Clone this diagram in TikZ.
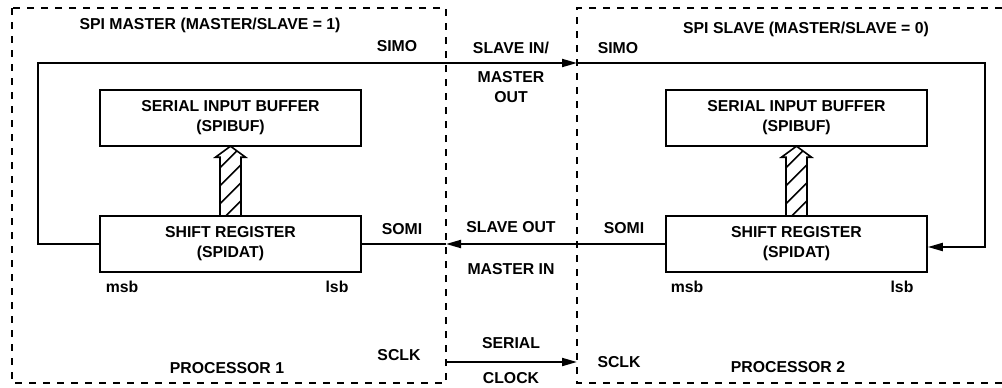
\documentclass[tikz,border=0pt]{standalone}
\usepackage{fontspec}
\setmainfont{Liberation Sans}
\usetikzlibrary{arrows.meta}

\begin{document}
\begin{tikzpicture}[x=1pt, y=-1pt,
    font=\fontsize{15.8}{20}\selectfont\bfseries,
    reg/.style={draw, line width=1.6pt, minimum width=261pt, minimum height=56pt, align=center, inner sep=0pt},
    lbl/.style={inner sep=0pt, anchor=base, align=center},
    wire/.style={line width=2pt},
    arr/.style={wire, -{Triangle[length=15pt,width=8pt]}},
    proc/.style={line width=1.6pt, dash pattern=on 7pt off 7pt}]

    \useasboundingbox (0,0) rectangle (1002,388);

    % processors
    \coordinate (mTL) at (12,8);
    \coordinate (mBR) at (446,383);
    \coordinate (sTL) at (577,8);
    \coordinate (sBR) at (1002,383);
    \draw[proc] (mTL) rectangle (mBR);
    \draw[proc] (sBR |- sTL) -- (sTL) |- (sBR);

    % registers
    \node[reg] (bufL) at (230.5,118) {SERIAL INPUT BUFFER\\(SPIBUF)};
    \node[reg] (srL) at (230.5,244) {SHIFT REGISTER\\(SPIDAT)};
    \node[reg] (bufR) at (796.5,118) {SERIAL INPUT BUFFER\\(SPIBUF)};
    \node[reg] (srR) at (796.5,244) {SHIFT REGISTER\\(SPIDAT)};

    % hatched transfer arrows
    \foreach \r in {srL,srR} {
        \begin{scope}[shift={(\r.north)}]
            \begin{scope}
                \clip (-10.5,0) -- (-10.5,-58) -- (-15,-58) -- (0,-69) -- (15,-58) -- (10.5,-58) -- (10.5,0) -- cycle;
                \foreach \k in {8,-10,-28,-46,-64}
                    \draw[line width=1.5pt] (-12,\k) -- (12,\k-24);
            \end{scope}
            \draw[line width=1.6pt] (-10.5,0) -- (-10.5,-58) -- (-15,-58) -- (0,-69) -- (15,-58) -- (10.5,-58) -- (10.5,0);
        \end{scope}
    }

    % SIMO loop
    \coordinate (loopL) at (38,63);
    \coordinate (simoTip) at (577,63);
    \coordinate (loopR) at (985,63);
    \draw[arr] (srL.west) -| (loopL) -- (simoTip);
    \draw[arr] (simoTip) -- (loopR) |- ([yshift=-3pt]srR.east);

    % SOMI
    \coordinate (somiTip) at (srR.west -| mBR);
    \draw[arr] (srR.west) -- (somiTip);
    \draw[wire] (somiTip) -- (srL.east);

    % SCLK
    \coordinate (clkA) at (446,362);
    \coordinate (clkB) at (577,362);
    \draw[arr] (clkA) -- (clkB);

    % labels
    \node[lbl] (tMaster) at (210,30) {SPI MASTER (MASTER/SLAVE = 1)};
    \node[lbl] (tSlave) at (806,33) {SPI SLAVE (MASTER/SLAVE = 0)};
    \node[lbl] (simoL) at (397,51) {SIMO};
    \node[lbl] (simoR) at (618,53) {SIMO};
    \node[lbl] (slaveIn) at (511,53) {SLAVE IN/};
    \node[lbl] (masterOut) at (511,102) {MASTER\\OUT};
    \node[lbl] (somiL) at (402,234) {SOMI};
    \node[lbl] (somiR) at (624,233) {SOMI};
    \node[lbl] (slaveOut) at (511,232) {SLAVE OUT};
    \node[lbl] (masterIn) at (511,274) {MASTER IN};
    \node[lbl] (msbL) at (122,292) {msb};
    \node[lbl] (lsbL) at (337,292) {lsb};
    \node[lbl] (msbR) at (687,292) {msb};
    \node[lbl] (lsbR) at (902,292) {lsb};
    \node[lbl] (sclkL) at (399,360) {SCLK};
    \node[lbl] (sclkR) at (619,367) {SCLK};
    \node[lbl] (serial) at (511,348) {SERIAL};
    \node[lbl] (clock) at (511,383) {CLOCK};
    \node[lbl] (proc1) at (227,373) {PROCESSOR 1};
    \node[lbl] (proc2) at (788,372) {PROCESSOR 2};

\end{tikzpicture}
\end{document}
